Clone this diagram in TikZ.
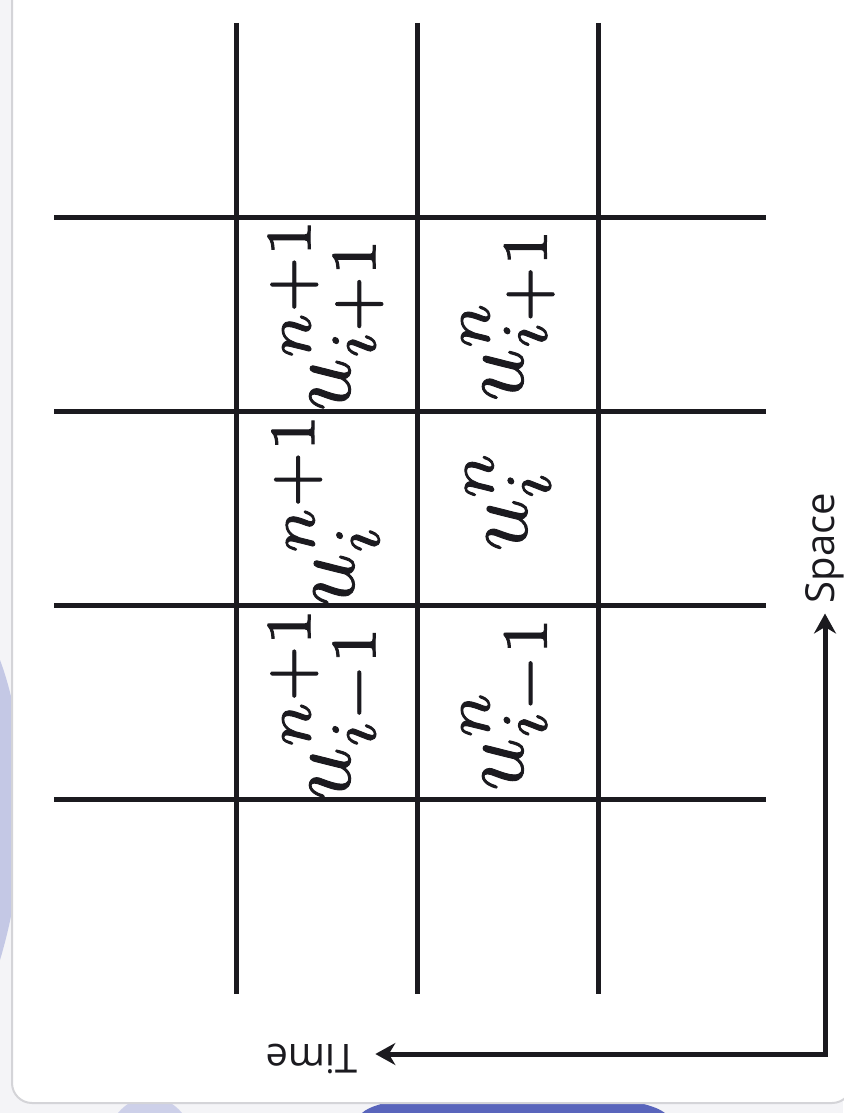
\documentclass[tikz,border=0pt]{standalone}
\usepackage{amsmath}
\usepackage{fontspec}
\setsansfont{Open Sans}
\usetikzlibrary{arrows.meta,positioning}
\definecolor{ink}{RGB}{27,26,31}
\definecolor{paper}{RGB}{244,244,247}
\definecolor{smoke}{RGB}{62,76,178}
\definecolor{edge}{RGB}{212,212,216}
% slightly heavier glyphs for the cell values
\newcommand{\heavy}[1]{\special{pdf:literal direct 2 Tr 0.1 w}#1\special{pdf:literal direct 0 Tr}}

\begin{document}
\begin{tikzpicture}[x=0.5pt, y=-0.5pt,
    gridline/.style={draw=ink, line width=2.5pt},
    cell/.style={rotate=90, scale=4.6, inner sep=0pt, text=ink, font=\normalsize},
    axislabel/.style={inner sep=0pt, text=ink, font=\sffamily\fontsize{20}{24}\selectfont}]
  \useasboundingbox (0,0) rectangle (843,1113);
  % backdrop round the card
  \fill[paper] (0,0) rectangle (843,1113);
  \fill[smoke!55, opacity=.5] (0,660) .. controls (30,740) and (30,860) .. (0,960) -- cycle;
  \fill[smoke!45, opacity=.5] (118,1113) .. controls (135,1092) and (165,1092) .. (182,1113) -- cycle;
  \fill[smoke, opacity=.85] (362,1113) .. controls (390,1085) and (630,1085) .. (665,1113) -- cycle;
  \fill[white, draw=edge, line width=1pt, rounded corners=10pt] (12,-20) rectangle (852,1103);

  % grid
  \draw[gridline] (236,23) -- (236,994);
  \draw[gridline] (417,23) -- (417,994);
  \draw[gridline] (598,23) -- (598,994);
  \draw[gridline] (54,217) -- (766,217);
  \draw[gridline] (54,411) -- (766,411);
  \draw[gridline] (54,605) -- (766,605);
  \draw[gridline] (54,799) -- (766,799);

  % values at the two time levels
  \node[cell] (newright) at (326,313) {\heavy{$u_{i+1}^{n+1}$}};
  \node[cell] (newmid) at (326,508) {\heavy{$u_{i}^{n+1}$}};
  \node[cell] (newleft) at (326,702) {\heavy{$u_{i-1}^{n+1}$}};
  \node[cell] (oldright) at (508,313) {\heavy{$u_{i+1}^{n}$}};
  \node[cell] (oldmid) at (508,500) {\heavy{$u_{i}^{n}$}};
  \node[cell] (oldleft) at (508,702) {\heavy{$u_{i-1}^{n}$}};

  % axes
  \coordinate (corner) at (825,1054);
  \node[axislabel, rotate=90, inner xsep=5pt] (space) at (825,548) {Space};
  \node[axislabel, rotate=180, inner xsep=8.5pt] (time) at (312,1059) {Time};
  \draw[ink, line width=2.5pt, {Stealth[length=10pt,width=11pt]}-{Stealth[length=10pt,width=11pt]}]
    (corner -| time.west) -- (corner) -- (corner |- space.west);
\end{tikzpicture}
\end{document}
